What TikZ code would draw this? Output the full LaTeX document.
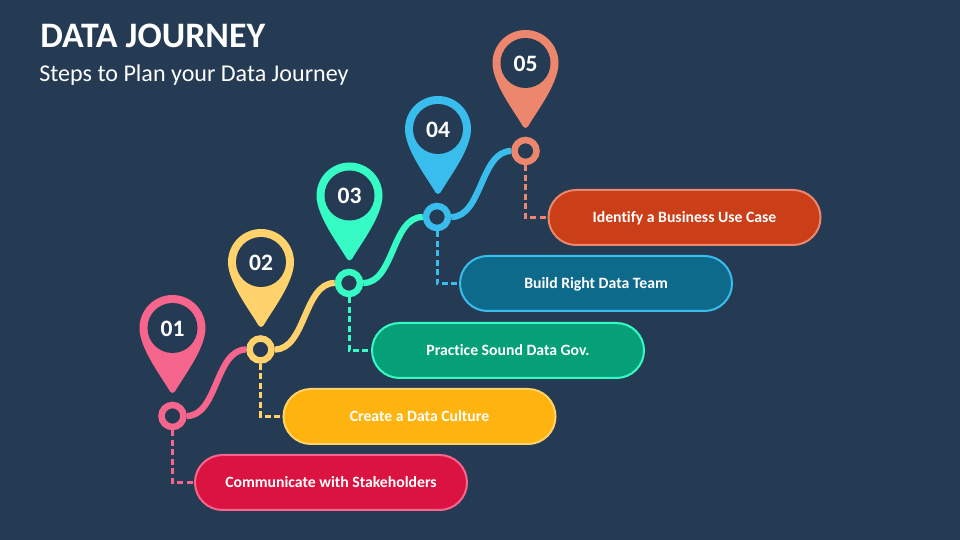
\documentclass[tikz,border=0pt]{standalone}
\usepackage{fontspec}
\setmainfont[Ligatures=NoCommon]{Carlito}
\usepackage{xcolor}
\usetikzlibrary{shapes,positioning}

\definecolor{slatebg}{HTML}{253B54}
\definecolor{pinA}{HTML}{F6668C}
\definecolor{pinB}{HTML}{FFD26B}
\definecolor{pinC}{HTML}{36FBC5}
\definecolor{pinD}{HTML}{38BDEC}
\definecolor{pinE}{HTML}{EC866C}
\definecolor{pillA}{HTML}{DA1340}
\definecolor{pillB}{HTML}{FFB30F}
\definecolor{pillC}{HTML}{06A078}
\definecolor{pillD}{HTML}{0E6A8B}
\definecolor{pillE}{HTML}{CA3E18}

\tikzset{
    ring/.style={
        circle,
        draw=#1,
        fill=slatebg,
        line width=0.13cm,
        minimum size=0.44cm,
        inner sep=0pt
    },
    pinhead/.style={
        circle,
        fill=slatebg,
        minimum size=1cm,
        inner sep=0pt,
        text=white,
        text height=0.34cm,
        text depth=0cm,
        font=\fontsize{13.4}{16}\selectfont\bfseries
    },
    pill/.style={
        rounded rectangle,
        draw=#1,
        line width=0.04cm,
        minimum width=5.44cm,
        minimum height=1.1cm,
        inner sep=0pt,
        text=white,
        text height=0.25cm,
        text depth=0.04cm,
        font=\fontsize{8.95}{11}\selectfont\bfseries
    },
    trail/.style={
        line width=0.125cm,
        color=#1
    },
    drop/.style={
        line width=0.06cm,
        dash pattern=on 0.12cm off 0.07cm,
        color=#1
    }
}

\newcommand{\drawpin}[4]{
    \begin{scope}[shift={(#2)}]
        \fill[#1] (-0.66,0) arc[start angle=180,end angle=0,radius=0.66cm]
            .. controls (0.66,-0.42) and (0.2,-1.0) .. (0.05,-1.27)
            .. controls (0.02,-1.31) and (-0.02,-1.31) .. (-0.05,-1.27)
            .. controls (-0.2,-1.0) and (-0.66,-0.42) .. (-0.66,0) -- cycle;
    \end{scope}
    \node[pinhead] (#3) at (#2) {#4};
}

\begin{document}
\begin{tikzpicture}
                \fill[slatebg] (0,0) rectangle (19.2,10.8);
                \useasboundingbox (0,0) rectangle (19.2,10.8);

                % heading
                \node[
                    anchor=west,
                    inner sep=0pt,
                    text=white,
                    font=\fontsize{20.4}{24}\selectfont\bfseries
                    ] (title) at (0.8,10.09) {DATA JOURNEY};

                \node[
                    anchor=west,
                    inner sep=0pt,
                    text=white,
                    font=\fontsize{13.7}{16}\selectfont
                    ] (subtitle) at (0.78,9.29) {Steps to Plan your Data Journey};

                % pins
                \drawpin{pinA}{3.45,4.24}{pinone}{01}
                \drawpin{pinB}{5.22,5.56}{pintwo}{02}
                \drawpin{pinC}{6.99,6.89}{pinthree}{03}
                \drawpin{pinD}{8.76,8.22}{pinfour}{04}
                \drawpin{pinE}{10.51,9.54}{pinfive}{05}

                % rings
                \node[ring=pinA] (ringone) at (3.45,2.48) {};
                \node[ring=pinB] (ringtwo) at (5.21,3.81) {};
                \node[ring=pinC] (ringthree) at (6.98,5.14) {};
                \node[ring=pinD] (ringfour) at (8.74,6.46) {};
                \node[ring=pinE] (ringfive) at (10.51,7.78) {};

                % step labels
                \node[pill=pinA, fill=pillA] (pillone) at (6.62,1.15) {Communicate with Stakeholders};
                \node[pill=pinB, fill=pillB] (pilltwo) at (8.39,2.47) {Create a Data Culture};
                \node[pill=pinC, fill=pillC] (pillthree) at (10.16,3.79) {Practice Sound Data Gov.};
                \node[pill=pinD, fill=pillD] (pillfour) at (11.92,5.13) {Build Right Data Team};
                \node[pill=pinE, fill=pillE] (pillfive) at (13.69,6.45) {Identify a Business Use Case};

                % curves between the rings
                \draw[trail=pinA] (ringone.east) .. controls +(0.62,0) and +(-0.62,0) .. (ringtwo.west);
                \draw[trail=pinB] (ringtwo.east) .. controls +(0.62,0) and +(-0.62,0) .. (ringthree.west);
                \draw[trail=pinC] (ringthree.east) .. controls +(0.62,0) and +(-0.62,0) .. (ringfour.west);
                \draw[trail=pinD] (ringfour.east) .. controls +(0.62,0) and +(-0.62,0) .. (ringfive.west);

                % dashed drops
                \draw[drop=pinA] (ringone.south) |- (pillone.west);
                \draw[drop=pinB] (ringtwo.south) |- (pilltwo.west);
                \draw[drop=pinC] (ringthree.south) |- (pillthree.west);
                \draw[drop=pinD] (ringfour.south) |- (pillfour.west);
                \draw[drop=pinE] (ringfive.south) |- (pillfive.west);

            \end{tikzpicture}
\end{document}
